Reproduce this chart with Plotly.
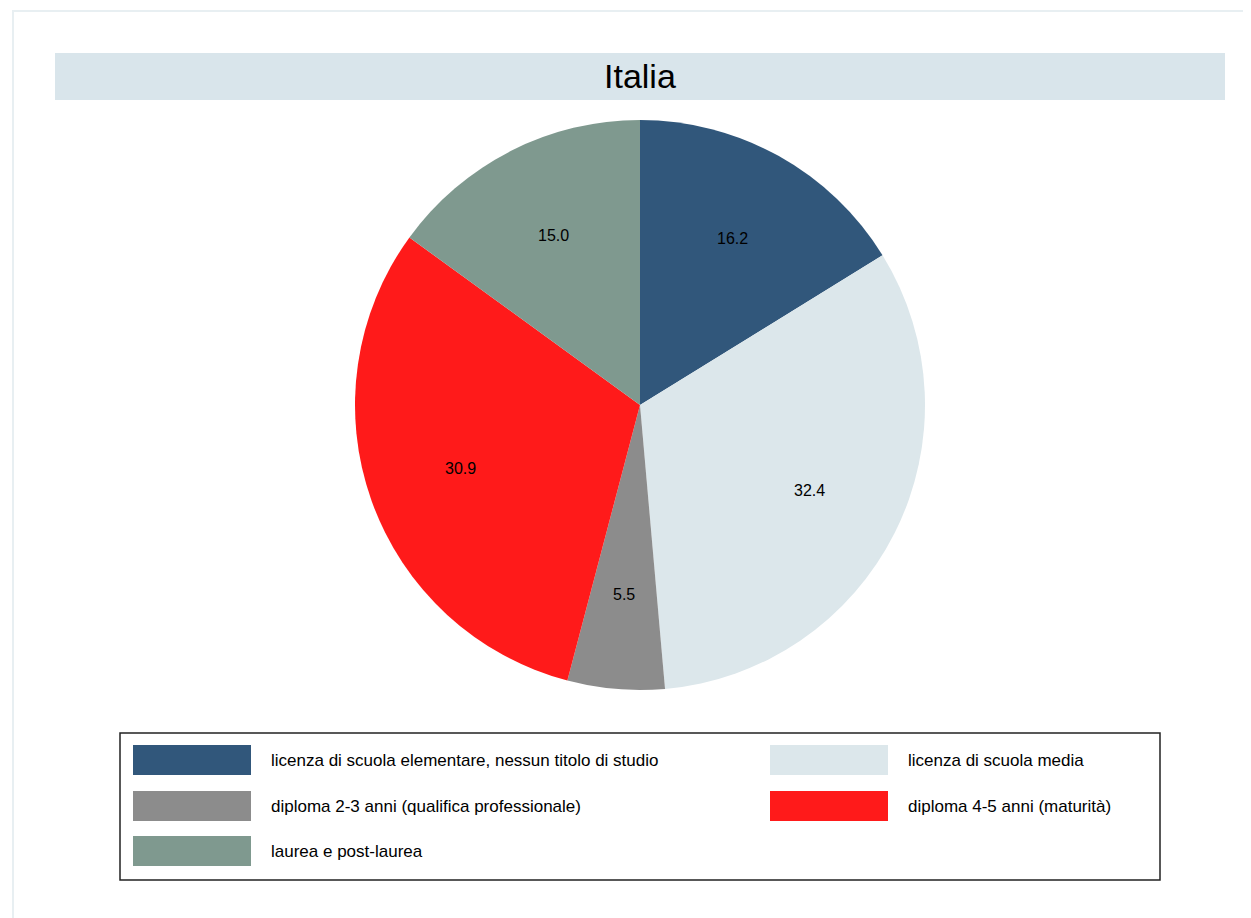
import math
import plotly.graph_objects as go

W, H = 1251, 918
OFF = 8  # margine del body nella pagina html
FW, FH = W - OFF, H - OFF

# dati (percentuali, Italia)
categorie = [
    "licenza di scuola elementare, nessun titolo di studio",
    "licenza di scuola media",
    "diploma 2-3 anni (qualifica professionale)",
    "diploma 4-5 anni (maturità)",
    "laurea e post-laurea",
]
valori = [16.2, 32.4, 5.5, 30.9, 15.0]
colori = ["#31577b", "#dce7eb", "#8c8c8c", "#ff1a1a", "#7f998f"]
titolo = "Italia"

FONT = "Liberation Sans, Arial, Helvetica, sans-serif"

# geometria della torta (pixel della pagina)
CX, CY, R = 640, 405, 285


def px(x):
    return (x - OFF) / FW


def py(y):
    return 1 - (y - OFF) / FH


fig = go.Figure(
    go.Pie(
        labels=categorie,
        values=valori,
        sort=False,
        direction="clockwise",
        rotation=0,
        marker=dict(colors=colori, line=dict(width=0)),
        textinfo="none",
        domain=dict(x=[px(CX - R), px(CX + R)], y=[py(CY + R), py(CY - R)]),
        hoverinfo="label+value",
        showlegend=False,
    )
)

shapes = [
    # cornice esterna chiara
    dict(type="rect", xref="paper", yref="paper", x0=px(13), x1=px(1280),
         y0=py(950), y1=py(11), line=dict(color="#e8eff2", width=2)),
    # fascia del titolo
    dict(type="rect", xref="paper", yref="paper", x0=px(55), x1=px(1225),
         y0=py(100), y1=py(53), fillcolor="#d9e5eb", line=dict(width=0)),
    # riquadro legenda
    dict(type="rect", xref="paper", yref="paper", x0=px(120), x1=px(1160),
         y0=py(880), y1=py(733), line=dict(color="#222222", width=1.5)),
]
annotations = [
    dict(text=titolo, x=px(640), y=py(76), xref="paper", yref="paper",
         showarrow=False, xanchor="center", yanchor="middle",
         font=dict(family=FONT, size=34, color="#000000")),
]

# etichette dei valori a 2/3 del raggio, al centro angolare di ogni fetta
tot = sum(valori)
cum = 0.0
for v in valori:
    ang = 2 * math.pi * (cum + v / 2) / tot
    cum += v
    lx = CX + 0.667 * R * math.sin(ang)
    ly = CY - 0.667 * R * math.cos(ang)
    annotations.append(dict(text=f"{v:.1f}", x=px(lx), y=py(ly), xref="paper", yref="paper",
                            showarrow=False, xanchor="center", yanchor="middle",
                            font=dict(family=FONT, size=16, color="#000000")))

# legenda su due colonne
col_x = [133, 770]
row_y = [760, 806, 851]
for i, (lab, col) in enumerate(zip(categorie, colori)):
    cx = col_x[i % 2]
    cy = row_y[i // 2]
    shapes.append(dict(type="rect", xref="paper", yref="paper",
                       x0=px(cx), x1=px(cx + 118), y0=py(cy + 15), y1=py(cy - 15),
                       fillcolor=col, line=dict(width=0)))
    annotations.append(dict(text=lab, x=px(cx + 136), y=py(cy), xref="paper", yref="paper",
                            showarrow=False, xanchor="left", yanchor="middle",
                            font=dict(family=FONT, size=17, color="#000000")))

fig.update_layout(
    width=FW,
    height=FH,
    margin=dict(l=0, r=0, t=0, b=0),
    paper_bgcolor="white",
    plot_bgcolor="white",
    shapes=shapes,
    annotations=annotations,
)

fig.write_html("out.html")
